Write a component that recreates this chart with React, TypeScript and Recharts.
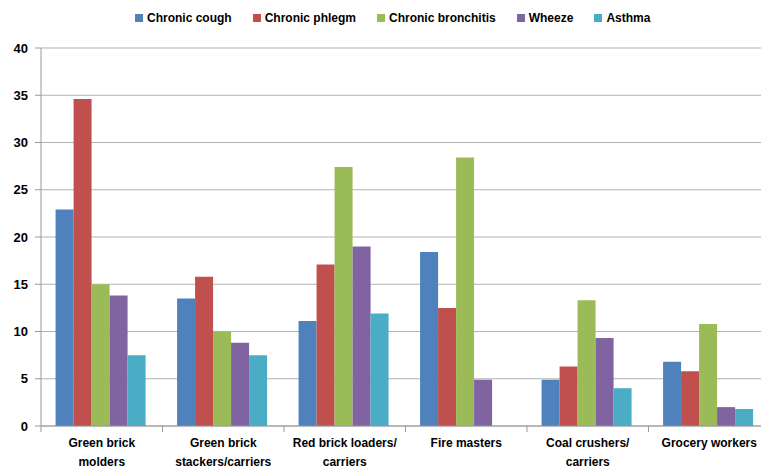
import React from "react";
import { BarChart, Bar, XAxis, YAxis, CartesianGrid, Legend } from "recharts";

const categories = [
  "Green brick\nmolders",
  "Green brick\nstackers/carriers",
  "Red brick loaders/\ncarriers",
  "Fire masters",
  "Coal crushers/\ncarriers",
  "Grocery workers",
];
const chronicCough = [22.9, 13.5, 11.1, 18.4, 4.9, 6.8];
const chronicPhlegm = [34.6, 15.8, 17.1, 12.5, 6.3, 5.8];
const chronicBronchitis = [15.0, 10.0, 27.4, 28.4, 13.3, 10.8];
const wheeze = [13.8, 8.8, 19.0, 4.9, 9.3, 2.0];
const asthma = [7.5, 7.5, 11.9, null, 4.0, 1.8];
const yTicks = [0, 5, 10, 15, 20, 25, 30, 35, 40];

const series = [
  { key: "cough", name: "Chronic cough", color: "#4F81BD", values: chronicCough },
  { key: "phlegm", name: "Chronic phlegm", color: "#C0504D", values: chronicPhlegm },
  { key: "bronchitis", name: "Chronic bronchitis", color: "#9BBB59", values: chronicBronchitis },
  { key: "wheeze", name: "Wheeze", color: "#8064A2", values: wheeze },
  { key: "asthma", name: "Asthma", color: "#4BACC6", values: asthma },
];

const data = categories.map((c, i) => {
  const row: Record<string, any> = { cat: c };
  series.forEach((s) => (row[s.key] = s.values[i]));
  return row;
});

const font = "'Liberation Sans', Arial, sans-serif";

// category labels plus the tick marks between categories
function CatTick(props: any) {
  const { x, y, payload, width, visibleTicksCount, index } = props;
  const half = width / visibleTicksCount / 2;
  const lines = String(payload.value).split("\n");
  return (
    <g transform={`translate(${x},${y})`}>
      <line x1={-half} x2={-half} y1={0} y2={6} stroke="#999" />
      {index === visibleTicksCount - 1 && <line x1={half} x2={half} y1={0} y2={6} stroke="#999" />}
      <text textAnchor="middle" fontFamily={font} fontWeight="bold" fontSize={12} fill="#000">
        {lines.map((l, i) => (
          <tspan key={i} x={0} y={21 + i * 19}>
            {l}
          </tspan>
        ))}
      </text>
    </g>
  );
}

function LegendContent() {
  return (
    <div style={{ display: "flex", gap: 21, paddingLeft: 135, height: 20, alignItems: "center" }}>
      {series.map((s) => (
        <div key={s.key} style={{ display: "flex", alignItems: "center" }}>
          <span style={{ width: 8, height: 8, background: s.color, marginRight: 4, display: "inline-block" }} />
          <span style={{ fontFamily: font, fontWeight: "bold", fontSize: 12, color: "#000" }}>{s.name}</span>
        </div>
      ))}
    </div>
  );
}

export default function App() {
  return (
    <div style={{ position: "absolute", left: 0, top: 0, width: 761, height: 469, overflow: "hidden", background: "#fff" }}>
      <BarChart
        width={775}
        height={469}
        data={data}
        margin={{ top: 28, right: 5, left: 0, bottom: 0 }}
        barCategoryGap="12%"
        barGap={0}
      >
        <CartesianGrid vertical={false} stroke="#b3b3b3" strokeWidth={1} />
        <XAxis
          dataKey="cat"
          stroke="#999"
          tickLine={false}
          tickSize={0}
          tickMargin={0}
          tick={<CatTick />}
          interval={0}
          height={43}
        />
        <YAxis
          width={41}
          domain={[0, 40]}
          ticks={yTicks}
          tickSize={6}
          tickMargin={7}
          stroke="#999"
          tick={{ fontFamily: font, fontWeight: "bold", fontSize: 13, fill: "#000" }}
        />
        <Legend verticalAlign="top" content={<LegendContent />} wrapperStyle={{ top: 8, left: 0 }} />
        {series.map((s) => (
          <Bar key={s.key} dataKey={s.key} name={s.name} fill={s.color} isAnimationActive={false} />
        ))}
      </BarChart>
    </div>
  );
}
